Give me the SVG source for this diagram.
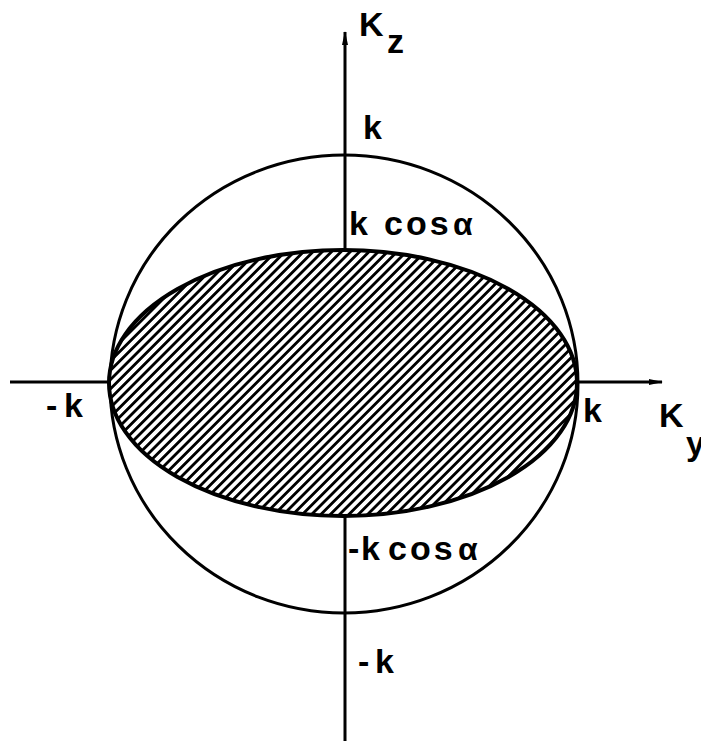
<svg xmlns="http://www.w3.org/2000/svg" width="701" height="741" viewBox="0 0 701 741">
<style>
.ax{stroke:#000;stroke-width:3;fill:none}
.lbl{font-family:"Liberation Sans",Arial,sans-serif;font-weight:bold;font-size:34px;fill:#000}
</style>
<defs>
<pattern id="hatch" patternUnits="userSpaceOnUse" width="6.6" height="6.6" patternTransform="rotate(-45)">
<rect width="6.6" height="6.6" fill="#fff"/>
<line x1="0" y1="3.3" x2="6.6" y2="3.3" stroke="#000" stroke-width="2.8"/>
</pattern>
<marker id="arr" markerWidth="14" markerHeight="8" refX="13" refY="4" orient="auto" markerUnits="userSpaceOnUse">
<path d="M0,1 L14,4 L0,7 Z" fill="#000"/>
</marker>
</defs>
<rect width="701" height="741" fill="#fff"/>
<g id="connectors">
<line class="ax" x1="345" y1="741" x2="345" y2="32" marker-end="url(#arr)"/>
<line class="ax" x1="10" y1="382" x2="662" y2="382" marker-end="url(#arr)"/>
</g>
<g id="circle">
<ellipse cx="344" cy="384" rx="234" ry="229" fill="none" stroke="#000" stroke-width="3"/>
</g>
<g id="ellipse">
<ellipse cx="343" cy="383" rx="234" ry="133" fill="url(#hatch)" stroke="#000" stroke-width="4"/>
</g>
<g id="labels">
<text class="lbl" x="359" y="36">K</text>
<text class="lbl" x="387" y="53" font-size="36">z</text>
<text class="lbl" x="363" y="139">k</text>
<text class="lbl" x="349" y="235">k<tspan x="384" letter-spacing="3">cos</tspan><tspan x="453" font-size="32">α</tspan></text>
<text class="lbl" x="46" y="417">-<tspan x="64">k</tspan></text>
<text class="lbl" x="583" y="422">k</text>
<text class="lbl" x="659" y="427">K</text>
<text class="lbl" x="686" y="455" font-size="36">y</text>
<text class="lbl" x="348" y="560">-<tspan x="361">k</tspan><tspan x="388" letter-spacing="3">cos</tspan><tspan x="458" font-size="32">α</tspan></text>
<text class="lbl" x="358" y="673" font-size="32">-<tspan x="375">k</tspan></text>
</g>
</svg>
